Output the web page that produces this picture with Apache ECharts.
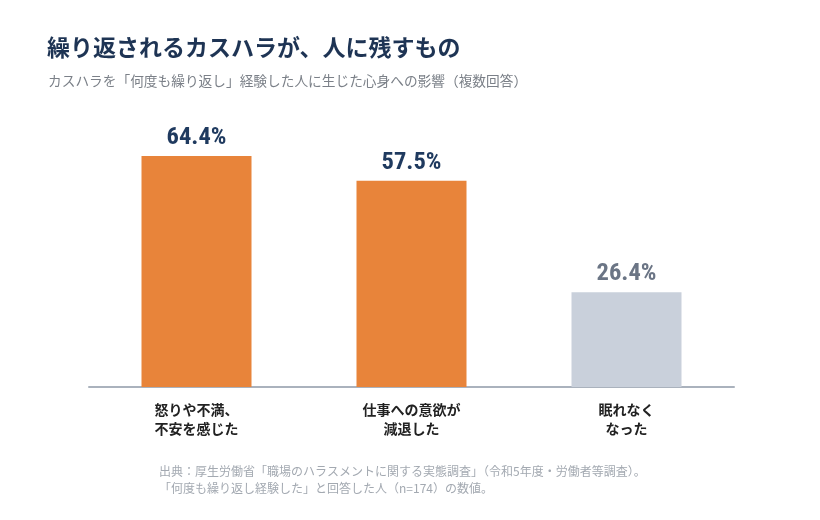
<!DOCTYPE html>
<html>
<head>
<meta charset="utf-8">
<script src="https://cdn.jsdelivr.net/npm/echarts@6/dist/echarts.min.js"></script>
<style>
  html, body { margin: 0; padding: 0; background: #fff; }
  #main { width: 820px; height: 520px; }
</style>
</head>
<body>
<div id="main"></div>
<script>
var categories = ['怒りや不満、\n不安を感じた', '仕事への意欲が\n減退した', '眠れなく\nなった'];
var values = [64.4, 57.5, 26.4];
var highlighted = [true, true, false];

var titleText = '繰り返されるカスハラが、人に残すもの';
var subText = 'カスハラを「何度も繰り返し」経験した人に生じた心身への影響（複数回答）';
var noteText = '出典：厚生労働省「職場のハラスメントに関する実態調査」（令和5年度・労働者等調査）。\n「何度も繰り返し経験した」と回答した人（n=174）の数値。';

var jp = "'Noto Sans CJK JP', 'Noto Sans', sans-serif";
var num = "'Roboto Condensed', 'Liberation Sans Narrow', 'Noto Sans CJK JP', sans-serif";

var myChart = echarts.init(document.getElementById('main'));

var option = {
    backgroundColor: '#ffffff',
    title: [
        {
            text: titleText,
            left: 47, top: 34, padding: 0,
            textStyle: { fontFamily: jp, fontSize: 23, fontWeight: 'bold', color: '#1e3454', lineHeight: 26 }
        },
        {
            text: subText,
            left: 48, top: 72, padding: 0,
            textStyle: { fontFamily: jp, fontSize: 13.7, fontWeight: 'normal', color: '#7b8088', lineHeight: 18 }
        },
        {
            text: noteText,
            left: 159, top: 463, padding: 0,
            textStyle: { fontFamily: jp, fontSize: 12, fontWeight: 'normal', color: '#a3a9b1', lineHeight: 17 }
        }
    ],
    grid: { left: 89, right: 86, top: 136, bottom: 133 },
    xAxis: {
        type: 'category',
        data: categories,
        axisLine: { lineStyle: { color: '#aab2bd', width: 2 } },
        axisTick: { show: false },
        axisLabel: {
            margin: 13,
            fontFamily: jp, fontSize: 14, fontWeight: 'bold', color: '#222222', lineHeight: 19
        }
    },
    yAxis: {
        type: 'value', min: 0, max: 70, show: false,
        splitLine: { show: false }
    },
    series: [{
        type: 'bar',
        barWidth: 110,
        data: values.map(function (v, i) {
            return {
                value: v,
                itemStyle: { color: highlighted[i] ? '#e8843a' : '#c9d0db' },
                label: { color: highlighted[i] ? '#1f3a5f' : '#6b7585' }
            };
        }),
        label: {
            show: true,
            position: 'top',
            distance: 6,
            fontFamily: num, fontSize: 24.5, fontWeight: 'bold',
            formatter: function (p) { return p.value.toFixed(1) + '%'; }
        },
        animation: false
    }]
};

myChart.setOption(option);
</script>
</body>
</html>
